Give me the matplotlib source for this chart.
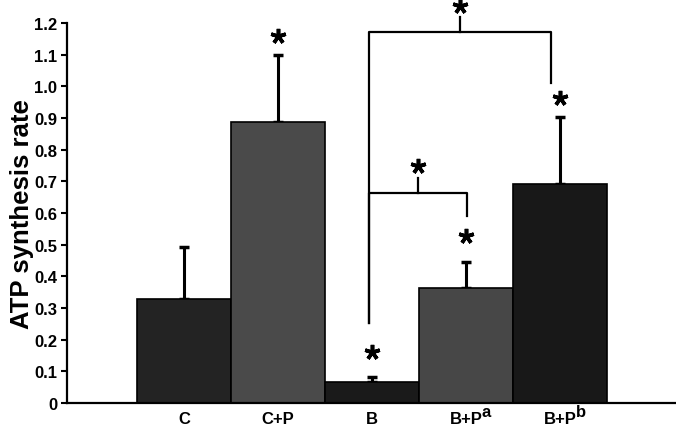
import matplotlib.pyplot as plt
import matplotlib.transforms as mtransforms
import numpy as np

plt.rcParams['font.family'] = ['Liberation Sans', 'DejaVu Sans']
plt.rcParams['font.weight'] = 'bold'

groups = ['C', 'C+P', 'B', 'B+P', 'B+P']
group_sup = ['', '', '', 'a', 'b']
rate = [0.327, 0.888, 0.065, 0.363, 0.692]
sd = [0.165, 0.210, 0.018, 0.082, 0.210]
bar_colors = ['#232323', '#4a4a4a', '#1a1a1a', '#474747', '#181818']

# significance stars above single bars: (bar index, y)
bar_stars = [(1, 1.160), (2, 0.161), (3, 0.528), (4, 0.962)]

# brackets: left x, right x, top y, left leg bottom, right leg bottom, star y
brackets = [
    (1.973, 3.015, 0.664, 0.253, 0.591, 0.747),
    (1.973, 3.904, 1.173, 0.253, 1.012, 1.255),
]

fig = plt.figure(figsize=(6.76, 4.27), dpi=100)
ax = fig.add_axes([67 / 676, 23 / 427, 609 / 676, 380 / 427])

x = np.arange(len(groups))
ax.bar(x, rate, width=1.0, color=bar_colors, edgecolor='black', linewidth=1.2, zorder=2)
ax.errorbar(x, rate, yerr=[np.zeros(len(sd)), sd], fmt='none', ecolor='black',
            elinewidth=2.2, capsize=3.5, capthick=2.5, zorder=1)

def star(xp, yp):
    ax.plot(xp, yp, marker=(5, 2, 0), markersize=11, markeredgewidth=2.6,
            color='black', clip_on=False, zorder=5)

for i, yp in bar_stars:
    star(x[i], yp)

for x0, x1, ytop, yl, yr, ys in brackets:
    mid = (x0 + x1) / 2
    ax.plot([x0, x0, x1, x1], [yl, ytop, ytop, yr], color='black', lw=1.6,
            clip_on=False, zorder=4)
    ax.plot([mid, mid], [ytop, ytop + 0.045], color='black', lw=1.6,
            clip_on=False, zorder=4)
    star(mid, ys)

ax.set_xlim(-1.248, 5.237)
ax.set_ylim(0, 1.2)
ax.set_yticks(np.arange(0, 1.21, 0.1))
ax.set_yticklabels(['0'] + ['%.1f' % v for v in np.arange(0.1, 1.21, 0.1)])
ax.set_xticks([])
ax.tick_params(axis='y', direction='out', length=4, width=1.5, labelsize=12, pad=3)
for s in ['top', 'right']:
    ax.spines[s].set_visible(False)
for s in ['left', 'bottom']:
    ax.spines[s].set_linewidth(1.6)

# category labels with full-size superscripts
trans = mtransforms.blended_transform_factory(ax.transData, ax.transAxes)
for xi, lab, sup in zip(x, groups, group_sup):
    ax.text(xi, -0.02, lab, transform=trans, ha='center', va='top', fontsize=12)
    if sup:
        ax.text(xi + 0.17, -0.003, sup, transform=trans, ha='left', va='top', fontsize=12)

ax.set_ylabel('ATP synthesis rate', fontsize=18.5, fontweight='bold', labelpad=0)

fig.savefig('out.png', dpi=100)
